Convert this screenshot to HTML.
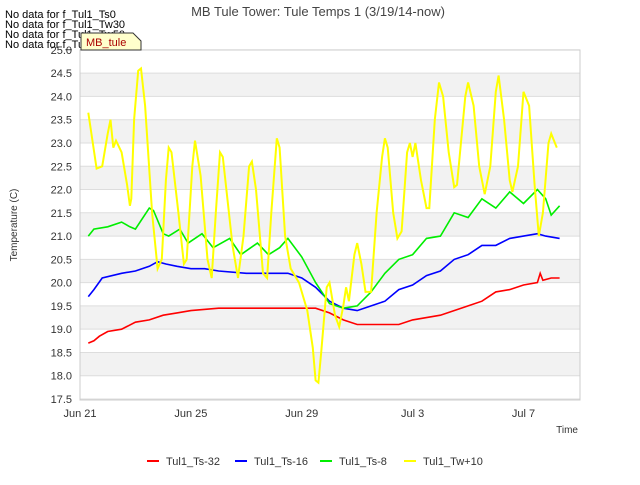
<!DOCTYPE html>
<html><head><meta charset="utf-8"><style>
body{margin:0;background:#fff;font-family:"Liberation Sans",sans-serif}
svg text{font-family:"Liberation Sans",sans-serif}
</style></head><body>
<svg id="c" width="640" height="480">
<text x="318" y="16" text-anchor="middle" font-size="13" fill="#444">MB Tule Tower: Tule Temps 1 (3/19/14-now)</text>
<g id="bands"></g><g id="yt"></g><g id="xt"></g><g id="lines"></g>
<rect x="80" y="50" width="500" height="350" fill="none" stroke="#ccc"/>
<text x="17" y="225" font-size="10" fill="#333" text-anchor="middle" transform="rotate(-90 17 225)">Temperature (C)</text>
<text x="578" y="433" font-size="10" fill="#333" text-anchor="end">Time</text>
<g font-size="11" fill="#000">
<text x="5" y="18">No data for f_Tul1_Ts0</text>
<text x="5" y="28">No data for f_Tul1_Tw30</text>
<text x="5" y="38">No data for f_Tul1_Tw50</text>
<text x="5" y="48">No data for f_Tul1_Tw100</text>
</g>
<g><path d="M81,33 L133,33 L141,41 L141,50 L81,50 Z" fill="#ffffcc" stroke="#333"/>
<text x="86" y="46" font-size="11" fill="#a00">MB_tule</text></g>
<g id="legend" font-size="11"></g>
</svg>
<script>
const yTicks=[17.5,18.0,18.5,19.0,19.5,20.0,20.5,21.0,21.5,22.0,22.5,23.0,23.5,24.0,24.5,25.0];
const xTickLabels=["Jun 21","Jun 25","Jun 29","Jul 3","Jul 7"];
const xTickDays=[0,4,8,12,16];
const seriesNames=["Tul1_Ts-32","Tul1_Ts-16","Tul1_Ts-8","Tul1_Tw+10"];
const seriesColors=["#ff0000","#0000ff","#00ee00","#ffff00"];
const redDays=[0.3,0.5,0.7,1,1.5,2,2.5,3,3.5,4,5,6,7,8,8.5,9,9.5,10,11,11.5,12,13,14,14.5,15,15.5,16,16.5,16.6,16.7,17,17.3];
const redVals=[18.7,18.75,18.85,18.95,19,19.15,19.2,19.3,19.35,19.4,19.45,19.45,19.45,19.45,19.45,19.35,19.2,19.1,19.1,19.1,19.2,19.3,19.5,19.6,19.8,19.85,19.95,20,20.2,20.05,20.1,20.1];
const blueDays=[0.3,0.5,0.8,1.5,2,2.5,2.8,3.1,3.5,4,4.5,5,6,7,7.5,8,8.5,9,9.5,10,10.5,11,11.5,12,12.5,13,13.5,14,14.5,15,15.5,16,16.5,16.8,17.3];
const blueVals=[19.7,19.85,20.1,20.2,20.25,20.35,20.45,20.4,20.35,20.3,20.3,20.25,20.2,20.2,20.2,20.1,19.9,19.6,19.45,19.4,19.5,19.6,19.85,19.95,20.15,20.25,20.5,20.6,20.8,20.8,20.95,21,21.05,21,20.95];
const greenDays=[0.3,0.5,1,1.5,1.8,2,2.5,2.65,3,3.2,3.6,3.9,4.4,4.8,5.4,5.8,6.4,6.8,7.2,7.5,8,8.5,9,9.5,10,10.5,11,11.5,12,12.5,13,13.5,14,14.5,15,15.5,16,16.5,16.8,17,17.3];
const greenVals=[21,21.15,21.2,21.3,21.2,21.15,21.6,21.55,21.05,21,21.15,20.85,21.05,20.75,20.95,20.6,20.85,20.6,20.75,20.95,20.55,20,19.55,19.45,19.5,19.8,20.2,20.5,20.6,20.95,21,21.5,21.4,21.8,21.6,21.95,21.7,22,21.8,21.45,21.65];
const yellowDays=[0.3,0.6,0.8,1,1.1,1.2,1.3,1.5,1.7,1.8,1.85,1.95,2.1,2.2,2.35,2.6,2.8,2.95,3.1,3.2,3.3,3.55,3.75,3.85,4.05,4.15,4.35,4.6,4.75,4.9,5.05,5.15,5.5,5.7,5.9,6.1,6.2,6.35,6.6,6.75,6.9,7.1,7.2,7.4,7.6,7.9,8.2,8.4,8.5,8.6,8.7,8.9,9,9.2,9.35,9.5,9.6,9.7,9.9,10,10.15,10.3,10.5,10.7,10.9,11,11.1,11.3,11.45,11.6,11.8,11.9,12,12.1,12.3,12.5,12.6,12.8,12.95,13.1,13.3,13.5,13.6,13.9,14,14.2,14.4,14.6,14.8,15,15.1,15.3,15.5,15.6,15.8,16,16.2,16.4,16.55,16.7,16.9,17,17.2];
const yellowVals=[23.65,22.45,22.5,23.2,23.5,22.9,23.05,22.8,22.1,21.65,21.8,23.5,24.55,24.6,23.8,21.5,20.3,20.5,22.2,22.9,22.8,21.5,20.4,20.5,22.5,23.05,22.3,20.5,20.1,21.5,22.8,22.7,20.8,20.1,21,22.5,22.6,22,20.2,20.1,21.5,23.1,22.9,21,20.3,20,19.4,18.6,17.9,17.85,18.5,19.9,20,19.3,19.05,19.5,19.9,19.6,20.6,20.85,20.4,19.8,19.8,21.5,22.7,23.1,22.9,21.5,20.95,21.1,22.8,23,22.7,23,22.2,21.6,21.6,23.5,24.3,24,22.8,22.05,22.1,24,24.3,23.8,22.5,21.9,22.5,24.1,24.45,23.5,22.2,21.95,22.5,24.1,23.8,22.1,21,21.5,23,23.2,22.9];
const NS="http://www.w3.org/2000/svg";
const X=d=>80+d*27.72;
const Y=v=>399-(v-17.5)*46.55;
function mk(t,a,p){const e=document.createElementNS(NS,t);for(const k in a)e.setAttribute(k,a[k]);p.appendChild(e);return e;}
const bands=document.getElementById('bands');
for(let v=18.0;v<25;v+=1){
 const r=mk('rect',{x:80,y:Y(v+0.5),width:500,height:Y(v)-Y(v+0.5),fill:'#f2f2f2'},bands);
 
 
}
const yt=document.getElementById('yt');
yTicks.forEach(v=>{
 const l=mk('line',{x1:80,x2:580,y1:Y(v),y2:Y(v),stroke:'#ddd'},yt);
 
 
 const t=mk('text',{x:72,y:Y(v)+4,'text-anchor':'end','font-size':11,fill:'#333'},yt);
 t.textContent=v.toFixed(1);
 
 
});
const xt=document.getElementById('xt');
xTickDays.forEach((d,i)=>{
 const t=mk('text',{x:X(d),y:417,'text-anchor':'middle','font-size':11,fill:'#333'},xt);
 t.textContent=xTickLabels[i];
 
 
});
const lines=document.getElementById('lines');
const all=[[redDays,redVals],[blueDays,blueVals],[greenDays,greenVals],[yellowDays,yellowVals]];
all.forEach((s,i)=>{
 const pts=s[0].map((d,j)=>X(d).toFixed(1)+','+Y(s[1][j]).toFixed(1)).join(' ');
 const p=mk('polyline',{points:pts,fill:'none',stroke:seriesColors[i],'stroke-width':i==3?2:1.6},lines);
 
 
});
const lg=document.getElementById('legend');
const lx=[147,235,320,404];
seriesNames.forEach((n,i)=>{
 const g=mk('g',{},lg);
 
 
 mk('line',{x1:lx[i],x2:lx[i]+12,y1:461,y2:461,stroke:seriesColors[i],'stroke-width':2},g);
 const t=mk('text',{x:lx[i]+19,y:465,fill:'#333'},g);
 t.textContent=n;
});
</script>
</body></html>
